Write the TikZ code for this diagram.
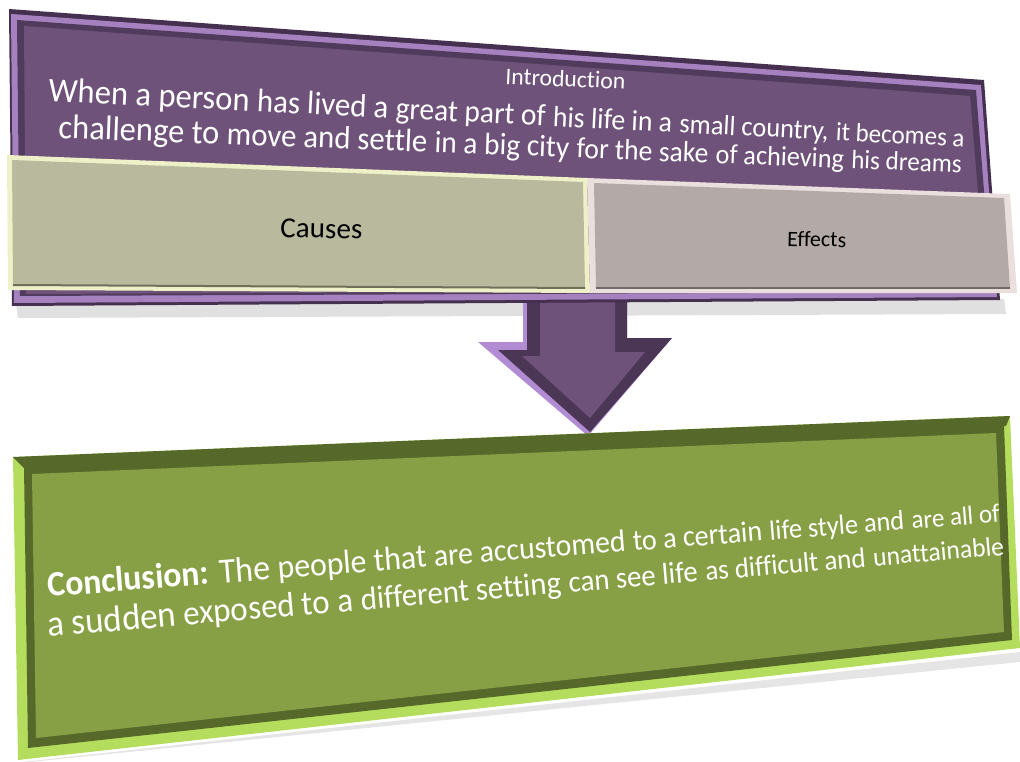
\documentclass[tikz,border=0pt]{standalone}
\usepackage{fontspec}
\setmainfont{Carlito}[Ligatures={NoCommon}]
\usepackage{graphicx}
\definecolor{pdark}{HTML}{45314F}
\definecolor{plight}{HTML}{A681C0}
\definecolor{pface}{HTML}{6E5279}
\definecolor{cface}{HTML}{B9BA9D}
\definecolor{clight}{HTML}{EEF0C8}
\definecolor{cdark}{HTML}{6F6F5A}
\definecolor{eface}{HTML}{B3AAA7}
\definecolor{elight}{HTML}{EADFDD}
\definecolor{edark}{HTML}{6E6866}
\definecolor{alight}{HTML}{B28CD3}
\definecolor{adark}{HTML}{4B3656}
\definecolor{gface}{HTML}{88A045}
\definecolor{glight}{HTML}{B4DD5E}
\definecolor{gdark}{HTML}{56692A}
\newcommand\sgw[2]{\scalebox{#1}{#2}\hspace{0.26em}}
\newcommand\sgl[2]{\scalebox{#1}{#2}}
\newcommand\tallline[2]{\scalebox{1}[1.05]{\resizebox{#1}{!}{#2}}}
\begin{document}
\begin{tikzpicture}[x=1pt,y=-1pt,
  wtxt/.style={inner sep=0pt, text=white, anchor=base west},
  btxt/.style={inner sep=0pt, text=black, anchor=base west}]
\useasboundingbox (0,0) rectangle (1020,762);
% shadows
\fill[black, opacity=0.12] (16,304) -- (1004,299) -- (1006,314) -- (18,318) -- cycle;
\fill[black, opacity=0.10] (22,762) -- (1020,652) -- (1020,662) -- (30,762) -- cycle;
% arrow
\fill[alight] (523,297) -- (627,297) -- (627,340) -- (672,338) -- (588,436) -- (478,342) -- (523,342) -- cycle;
\fill[adark] (527,297) -- (627,297) -- (627,338) -- (672,338) -- (590,432) -- (498,350) -- (527,350) -- cycle;
\fill[pface] (540,297) -- (615,297) -- (615,352) -- (645,352) -- (590,418) -- (522,356) -- (540,356) -- cycle;
% purple introduction box
\fill[pdark] (9,9) -- (984,80) -- (1000,300) -- (12,306) -- cycle;
\fill[plight] (11,14) -- (981,85) -- (997,297) -- (14,303) -- cycle;
\fill[pdark!70!pface] (17,20) -- (976,90) -- (992,292) -- (20,296) -- cycle;
\fill[pface] (24,26) -- (970,96) -- (986,290) -- (26,294) -- cycle;
% causes box
\fill[clight] (7,155) -- (587,178) -- (590,293) -- (8,290) -- cycle;
\fill[cface] (12,160) -- (583,182) -- (585,288) -- (13,285) -- cycle;
\draw[cdark, line width=2pt] (13,285) -- (585,288);
% effects box
\fill[elight] (587,178) -- (1010,194) -- (1017,293) -- (590,293) -- cycle;
\fill[eface] (594,183) -- (1004,198) -- (1010,288) -- (596,288) -- cycle;
\draw[edark, line width=2pt] (596,288) -- (1010,288);
% green conclusion box
\fill[glight] (13,457) -- (1010,416) -- (1020,648) -- (18,760) -- cycle;
\fill[gdark] (13,457) -- (1010,416) -- (1006,426) -- (24,468) -- cycle;
\fill[gdark] (24,466) -- (1004,425) -- (1012,640) -- (28,748) -- cycle;
\fill[gface] (32,474) -- (996,433) -- (1004,632) -- (36,738) -- cycle;
% introduction texts
\node[wtxt, rotate=-2.5] (intro) at (505,84) {\resizebox{120pt}{!}{Introduction}};
\node[wtxt, rotate=-2.87] (il1) at (48,101) {\tallline{917pt}{\sgw{1.15}{When a person}\sgw{1.09}{has lived a}\sgw{1.04}{great part of}\sgw{0.98}{his life in a}\sgw{0.93}{small country,}\sgl{0.88}{it becomes a}}};
\node[wtxt, rotate=-2.2] (il2) at (58,138) {\tallline{904pt}{\sgw{1.14}{challenge to}\sgw{1.08}{move and settle}\sgw{1.03}{in a big city}\sgw{0.97}{for the sake}\sgw{0.92}{of achieving}\sgl{0.88}{his dreams}}};
% causes / effects
\node[btxt, rotate=-1.5] (causes) at (280,237) {\resizebox{82pt}{!}{Causes}};
\node[btxt, rotate=-1.2] (effects) at (787,246) {\resizebox{59pt}{!}{Effects}};
% conclusion texts
\node[wtxt, rotate=4.5] (cl1) at (48,597) {\tallline{955pt}{\sgw{1.19}{\textbf{Conclusion:} The}\sgw{1.12}{people that}\sgw{1.05}{are accustomed}\sgw{0.99}{to a certain}\sgw{0.93}{life style and}\sgl{0.88}{are all of}}};
\node[wtxt, rotate=4.9] (cl2) at (48,637) {\tallline{960pt}{\sgw{1.19}{a sudden}\sgw{1.12}{exposed to a}\sgw{1.05}{different setting}\sgw{0.98}{can see life}\sgw{0.92}{as difficult and}\sgl{0.87}{unattainable}}};
\end{tikzpicture}
\end{document}
